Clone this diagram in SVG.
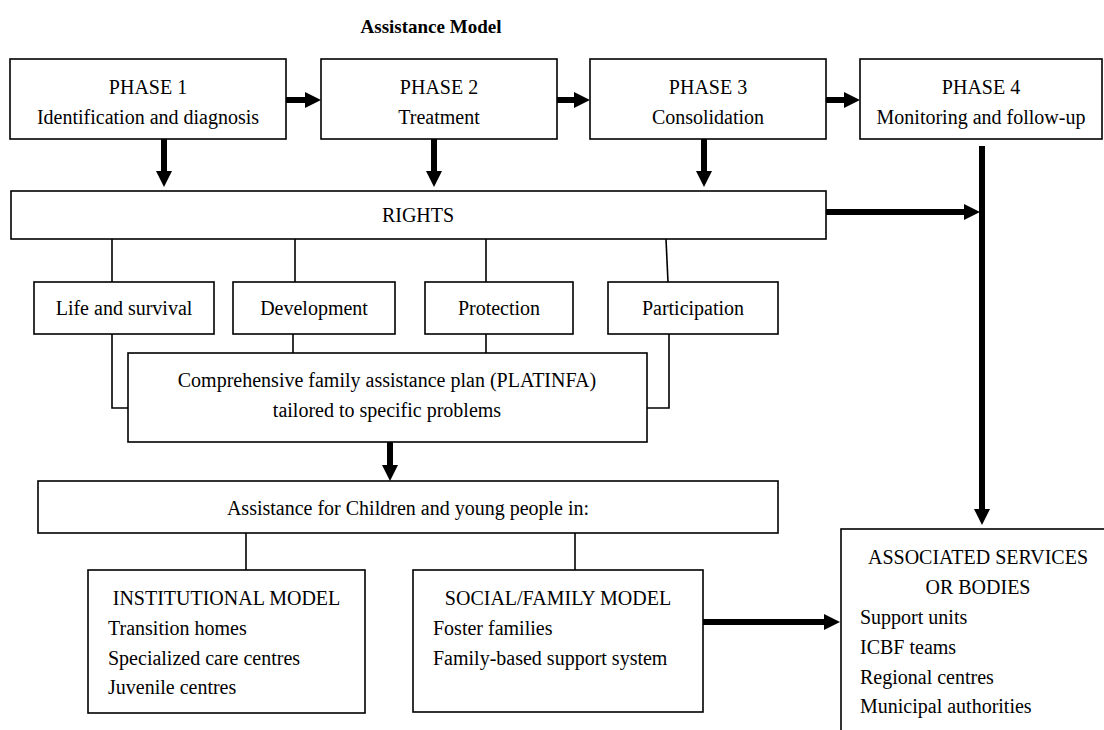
<svg xmlns="http://www.w3.org/2000/svg" width="1104" height="730" viewBox="0 0 1104 730">
<defs>
<marker id="ah" markerUnits="userSpaceOnUse" markerWidth="16" markerHeight="16" refX="0" refY="8" orient="auto">
<path d="M0,0 L16,8 L0,16 z" fill="#000"/>
</marker>
<style>
.box{fill:#fff;stroke:#000;stroke-width:1.6}
.t{font-family:"Liberation Serif","Times New Roman",serif;font-size:20px;fill:#000}
.c{text-anchor:middle}
.title{font-family:"Liberation Serif","Times New Roman",serif;font-size:19px;font-weight:bold;text-anchor:middle}
.thin{fill:none;stroke:#000;stroke-width:1.6}
.thick{fill:none;stroke:#000;stroke-width:6;marker-end:url(#ah)}
.bar{fill:none;stroke:#000;stroke-width:6}
</style>
</defs>
<rect width="1104" height="730" fill="#fff"/>
<text class="title" x="431" y="33">Assistance Model</text>

<g id="connectors">
<line class="thick" x1="286" y1="100" x2="305" y2="100"/>
<line class="thick" x1="557" y1="100" x2="574" y2="100"/>
<line class="thick" x1="826" y1="100" x2="844" y2="100"/>
<line class="thick" x1="164" y1="139" x2="164" y2="171"/>
<line class="thick" x1="434" y1="139" x2="434" y2="171"/>
<line class="thick" x1="704" y1="139" x2="704" y2="171"/>
<line class="thick" x1="826" y1="212" x2="964" y2="212"/>
<line class="thick" x1="982" y1="146" x2="982" y2="509"/>
<line class="thick" x1="390" y1="442" x2="390" y2="465"/>
<line class="thick" x1="703" y1="622" x2="824" y2="622"/>
<line class="thin" x1="112" y1="239" x2="112" y2="282"/>
<line class="thin" x1="295" y1="239" x2="295" y2="282"/>
<line class="thin" x1="486" y1="239" x2="486" y2="282"/>
<line class="thin" x1="666" y1="239" x2="668" y2="282"/>
<polyline class="thin" points="112,334 112,408 128,408"/>
<line class="thin" x1="293" y1="334" x2="293" y2="353"/>
<line class="thin" x1="486" y1="334" x2="486" y2="353"/>
<polyline class="thin" points="669,334 669,408 647,408"/>
<line class="thin" x1="246" y1="533" x2="246" y2="570"/>
<line class="thin" x1="575" y1="533" x2="575" y2="570"/>
</g>

<g id="phase1">
<rect class="box" x="10" y="59" width="276" height="80"/>
<text class="t c" x="148" y="94">PHASE 1</text>
<text class="t c" x="148" y="124">Identification and diagnosis</text>
</g>
<g id="phase2">
<rect class="box" x="321" y="59" width="236" height="80"/>
<text class="t c" x="439" y="94">PHASE 2</text>
<text class="t c" x="439" y="124">Treatment</text>
</g>
<g id="phase3">
<rect class="box" x="590" y="59" width="236" height="80"/>
<text class="t c" x="708" y="94">PHASE 3</text>
<text class="t c" x="708" y="124">Consolidation</text>
</g>
<g id="phase4">
<rect class="box" x="860" y="59" width="242" height="80"/>
<text class="t c" x="981" y="94">PHASE 4</text>
<text class="t c" x="981" y="124">Monitoring and follow-up</text>
</g>
<g id="rights">
<rect class="box" x="11" y="191" width="815" height="48"/>
<text class="t c" x="418" y="222">RIGHTS</text>
</g>
<g id="life">
<rect class="box" x="34" y="282" width="180" height="52"/>
<text class="t c" x="124" y="315">Life and survival</text>
</g>
<g id="development">
<rect class="box" x="233" y="282" width="162" height="52"/>
<text class="t c" x="314" y="315">Development</text>
</g>
<g id="protection">
<rect class="box" x="425" y="282" width="148" height="52"/>
<text class="t c" x="499" y="315">Protection</text>
</g>
<g id="participation">
<rect class="box" x="608" y="282" width="170" height="52"/>
<text class="t c" x="693" y="315">Participation</text>
</g>
<g id="platinfa">
<rect class="box" x="128" y="353" width="519" height="89"/>
<text class="t c" x="387" y="387">Comprehensive family assistance plan (PLATINFA)</text>
<text class="t c" x="387" y="417">tailored to specific problems</text>
</g>
<g id="assistance">
<rect class="box" x="38" y="481" width="740" height="52"/>
<text class="t c" x="408" y="515">Assistance for Children and young people in:</text>
</g>
<g id="institutional">
<rect class="box" x="88" y="570" width="277" height="143"/>
<text class="t c" x="226.5" y="605">INSTITUTIONAL MODEL</text>
<text class="t" x="108" y="635">Transition homes</text>
<text class="t" x="108" y="665">Specialized care centres</text>
<text class="t" x="108" y="694">Juvenile centres</text>
</g>
<g id="social">
<rect class="box" x="413" y="570" width="290" height="142"/>
<text class="t c" x="558" y="605">SOCIAL/FAMILY MODEL</text>
<text class="t" x="433" y="635">Foster families</text>
<text class="t" x="433" y="665">Family-based support system</text>
</g>
<g id="associated">
<rect class="box" x="841" y="529" width="274" height="220"/>
<text class="t c" x="978" y="564">ASSOCIATED SERVICES</text>
<text class="t c" x="978" y="594">OR BODIES</text>
<text class="t" x="860" y="624">Support units</text>
<text class="t" x="860" y="654">ICBF teams</text>
<text class="t" x="860" y="684">Regional centres</text>
<text class="t" x="860" y="713">Municipal authorities</text>
</g>
</svg>
